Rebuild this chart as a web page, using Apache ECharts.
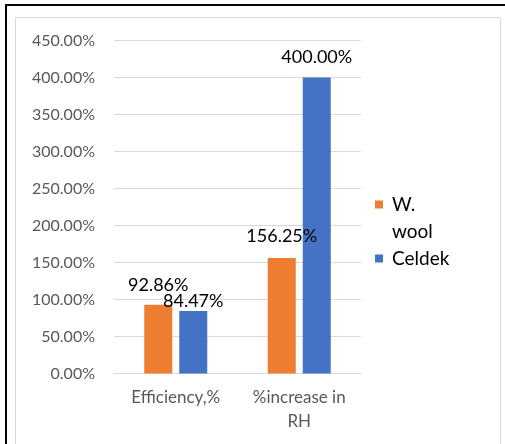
<!DOCTYPE html>
<html><head><meta charset="utf-8">
<script src="https://cdn.jsdelivr.net/npm/echarts@6/dist/echarts.min.js"></script>
<style>html,body{margin:0;padding:0;background:#fff}#c{width:505px;height:444px}</style>
</head><body><div id="c"></div>
<script>
var categories = ['Efficiency,%', '%increase in\nRH'];
var seriesNames = ['W. wool', 'Celdek'];
var woolValues = [92.86, 156.25];
var celdekValues = [84.47, 400.00];
var yTicks = [0, 50, 100, 150, 200, 250, 300, 350, 400, 450];

var FONT = 'Lato';
var chart = echarts.init(document.getElementById('c'));
function mkData(vals, offsets) {
  return vals.map(function (v, i) {
    return { value: v, label: { offset: [0, offsets[i]] } };
  });
}
var labelStyle = { show: true, position: 'top', distance: 11, color: '#000', fontSize: 18, fontFamily: FONT,
  formatter: function (p) { return p.value.toFixed(2) + '%'; } };
chart.setOption({
  animation: false,
  textStyle: { fontFamily: FONT },
  graphic: [
    { type: 'rect', shape: { x: 6, y: 5, width: 520, height: 460 }, style: { fill: 'none', stroke: '#000', lineWidth: 2 } },
    { type: 'rect', shape: { x: 15.5, y: 17.5, width: 485, height: 440 }, style: { fill: 'none', stroke: '#d9d9d9', lineWidth: 1 } }
  ],
  grid: { left: 114, right: 144, top: 40.5, bottom: 70.5 },
  legend: {
    orient: 'vertical', left: 375, top: 191, padding: 0,
    itemWidth: 12, itemHeight: 54, itemGap: -13.5,
    data: [
      { name: seriesNames[0], icon: 'path://M0,9.5h8v8h-8zM0,0M12,54' },
      { name: seriesNames[1], icon: 'path://M0,23h8v8h-8zM0,0M12,54' }
    ],
    formatter: function (n) { return n.replace(' ', '\n'); },
    textStyle: { fontSize: 19, color: '#000', fontFamily: FONT, lineHeight: 27 }
  },
  xAxis: {
    type: 'category', data: categories,
    axisLine: { lineStyle: { color: '#d9d9d9' } },
    axisTick: { show: false },
    axisLabel: { color: '#595959', fontSize: 17, margin: 12, lineHeight: 24, fontFamily: FONT }
  },
  yAxis: {
    type: 'value', min: yTicks[0], max: yTicks[yTicks.length - 1], interval: 50,
    axisLine: { show: false }, axisTick: { show: false },
    splitLine: { lineStyle: { color: '#d9d9d9' } },
    axisLabel: { color: '#595959', fontSize: 16, margin: 19, fontFamily: FONT,
      formatter: function (v) { return v.toFixed(2) + '%'; } }
  },
  series: [
    { name: seriesNames[0], type: 'bar', barWidth: 28, barGap: '25%', data: mkData(woolValues, [0, -2]),
      itemStyle: { color: '#ED7D31' }, label: labelStyle },
    { name: seriesNames[1], type: 'bar', barWidth: 28, data: mkData(celdekValues, [10, 0]),
      itemStyle: { color: '#4472C4' }, label: labelStyle }
  ]
});
</script></body></html>
